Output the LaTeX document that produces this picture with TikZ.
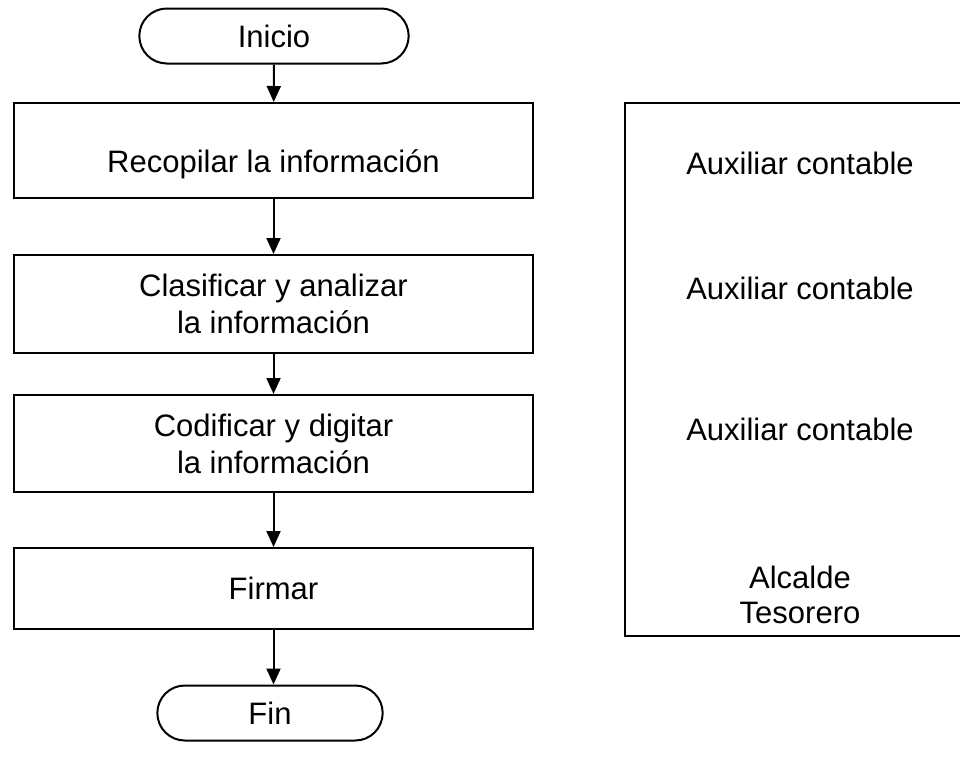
\documentclass[tikz,border=0pt]{standalone}
\usepackage{fontspec}
\setmainfont{Liberation Sans}
\usetikzlibrary{arrows.meta, shapes.misc}

\begin{document}
\begin{tikzpicture}[
				x=1pt, y=-1pt,
				terminal/.style={draw, line width=2pt, rounded rectangle, minimum height=55pt, font=\fontsize{31}{37}\selectfont},
				proceso/.style={draw, line width=2pt, minimum width=519pt, align=center, font=\fontsize{31}{37}\selectfont},
				cargo/.style={align=center, font=\fontsize{31}{35}\selectfont},
				flecha/.style={line width=2pt, -{Triangle[length=16pt, width=14pt]}}
			]
			\useasboundingbox (0,0) rectangle (960,756);
			% Flujo del proceso
			\node[terminal, minimum width=276pt] (inicio) at (274,36) {Inicio};
			\node[proceso, minimum height=95pt, text height=44pt, text depth=0pt] (recopilar) at (273.5,150.5) {Recopilar la información};
			\node[proceso, minimum height=98pt] (clasificar) at (273.5,304) {Clasificar y analizar\\ la información};
			\node[proceso, minimum height=97pt] (codificar) at (273.5,443.5) {Codificar y digitar\\ la información};
			\node[proceso, minimum height=81pt] (firmar) at (273.5,588.5) {Firmar};
			\node[terminal, minimum width=232pt] (fin) at (270,713) {Fin};
			% Responsables
			\node[draw, line width=2pt, minimum width=340pt, minimum height=533pt] (responsables) at (795,369.5) {};
			\foreach \y in {163,288,429} {
					\node[cargo] (aux\y) at (800,\y) {Auxiliar contable};
				}
			\node[cargo] (alcalde) at (800,595) {Alcalde\\Tesorero};
			% Flechas
			\draw[flecha] (inicio) -- (recopilar);
			\draw[flecha] (recopilar) -- (clasificar);
			\draw[flecha] (clasificar) -- (codificar);
			\draw[flecha] (codificar) -- (firmar);
			\draw[flecha] (firmar) -- (fin.north -| firmar);
		\end{tikzpicture}
\end{document}
